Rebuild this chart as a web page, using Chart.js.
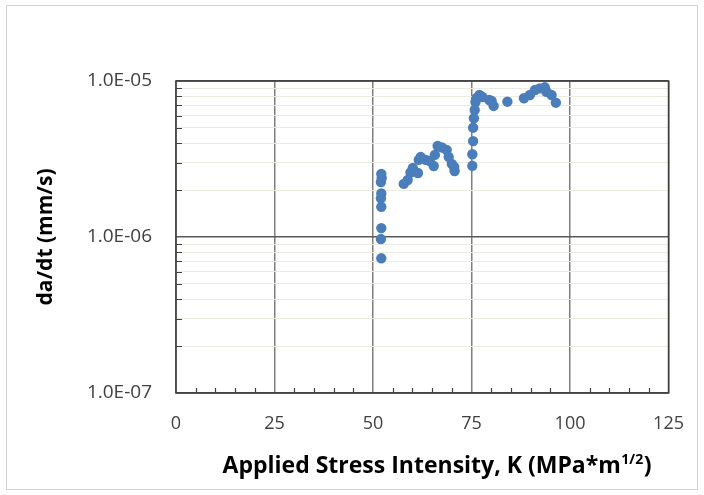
<!DOCTYPE html>
<html>
<head>
<meta charset="utf-8">
<script src="https://cdn.jsdelivr.net/npm/chart.js@4.4.1/dist/chart.umd.min.js"></script>
<style>
  html, body { margin: 0; padding: 0; background: #ffffff; }
  #wrap { width: 704px; height: 495px; position: relative; }
</style>
</head>
<body>
<div id="wrap"><canvas id="c" width="704" height="495"></canvas></div>
<script>
// Applied stress intensity K (MPa*m^1/2)
const K = [
  52.1, 52.2, 52.0, 52.1, 52.0, 52.1, 52.1, 52.0, 52.1,
  57.8, 58.8, 59.5, 60.1, 61.4, 61.6, 62.1, 63.4, 64.4, 65.4, 65.7, 66.4, 67.5, 68.7, 69.2, 70.0, 70.6, 70.7,
  75.2, 75.2, 75.4, 75.4, 75.6, 75.8, 76.0, 76.3, 77.0, 77.8, 79.5, 80.1, 80.6,
  84.1, 88.3, 89.8, 91.1, 92.3, 93.6, 94.0, 95.3, 96.4
];

// Crack growth rate da/dt (mm/s)
const DADT = [
  2.54e-6, 2.39e-6, 2.25e-6, 1.90e-6, 1.77e-6, 1.56e-6, 1.14e-6, 0.97e-6, 0.73e-6,
  2.19e-6, 2.32e-6, 2.59e-6, 2.77e-6, 2.57e-6, 3.12e-6, 3.26e-6, 3.12e-6, 3.07e-6, 2.85e-6, 3.36e-6, 3.83e-6, 3.75e-6, 3.61e-6, 3.26e-6, 2.94e-6, 2.81e-6, 2.65e-6,
  2.86e-6, 3.39e-6, 4.12e-6, 5.02e-6, 5.77e-6, 6.52e-6, 7.33e-6, 7.78e-6, 8.13e-6, 7.89e-6, 7.56e-6, 7.44e-6, 6.92e-6,
  7.37e-6, 7.75e-6, 8.13e-6, 8.76e-6, 8.97e-6, 9.11e-6, 8.53e-6, 8.13e-6, 7.26e-6
];

// Axis ticks
const X_TICKS = [0, 25, 50, 75, 100, 125];
const X_MINOR_STEP = 5;
const Y_DECADES = [-7, -6, -5];          // labelled powers of ten
const Y_MINOR_MULT = [2, 3, 4, 5, 6, 7, 8, 9];

const X_TITLE = 'Applied Stress Intensity, K (MPa*m';
const X_TITLE_SUP = '1/2';
const X_TITLE_END = ')';
const Y_TITLE = 'da/dt (mm/s)';

const FONT = "'Open Sans', 'Liberation Sans', sans-serif";
const TEXT = '#404040';

function sciLabel(v) {
  const e = Math.round(Math.log10(v));
  const m = v / Math.pow(10, e);
  const sign = e < 0 ? '-' : '+';
  const ee = String(Math.abs(e)).padStart(2, '0');
  return m.toFixed(1) + 'E' + sign + ee;
}
function isDecade(v) {
  const l = Math.log10(v);
  return Math.abs(l - Math.round(l)) < 1e-6;
}

const points = K.map((k, i) => ({ x: k, y: DADT[i] }));

// Box outline, inward minor ticks, titles and the outer frame
const decor = {
  id: 'decor',
  beforeDraw(chart) {
    const ctx = chart.ctx;
    ctx.save();
    ctx.fillStyle = '#ffffff';
    ctx.fillRect(0, 0, chart.width, chart.height);
    ctx.restore();
  },
  afterDatasetsDraw(chart) {
    const ctx = chart.ctx;
    const a = chart.chartArea;
    const xs = chart.scales.x, ys = chart.scales.y;
    ctx.save();
    // minor ticks pointing into the plot
    ctx.strokeStyle = '#404040';
    ctx.lineWidth = 1.2;
    ctx.beginPath();
    for (let d = 0; d < Y_DECADES.length - 1; d++) {
      Y_MINOR_MULT.forEach(m => {
        const y = Math.round(ys.getPixelForValue(m * Math.pow(10, Y_DECADES[d]))) + 0.5;
        ctx.moveTo(a.left, y);
        ctx.lineTo(a.left + 6, y);
      });
    }
    for (let v = X_TICKS[0]; v <= X_TICKS[X_TICKS.length - 1]; v += X_MINOR_STEP) {
      if (X_TICKS.includes(v)) continue;
      const x = Math.round(xs.getPixelForValue(v)) + 0.5;
      ctx.moveTo(x, a.bottom);
      ctx.lineTo(x, a.bottom - 5);
    }
    ctx.stroke();
    // plot box
    ctx.lineWidth = 1.6;
    ctx.strokeStyle = '#404040';
    ctx.strokeRect(a.left, a.top, a.right - a.left, a.bottom - a.top);

    // outer frame
    ctx.lineWidth = 1;
    ctx.strokeStyle = '#d4d4d4';
    ctx.strokeRect(6.5, 5.5, 691, 484);

    // y title
    ctx.fillStyle = '#000000';
    ctx.font = 'bold 21px ' + FONT;
    ctx.textAlign = 'center';
    ctx.textBaseline = 'middle';
    ctx.translate(46, (a.top + a.bottom) / 2);
    ctx.rotate(-Math.PI / 2);
    ctx.fillText(Y_TITLE, 0, 0);
    ctx.setTransform(1, 0, 0, 1, 0, 0);

    // x title with superscript exponent
    ctx.textAlign = 'left';
    ctx.textBaseline = 'alphabetic';
    const mainFont = 'bold 23px ' + FONT;
    const supFont = 'bold 14px ' + FONT;
    ctx.font = mainFont;
    const w1 = ctx.measureText(X_TITLE).width;
    const w3 = ctx.measureText(X_TITLE_END).width;
    ctx.font = supFont;
    const w2 = ctx.measureText(X_TITLE_SUP).width;
    const total = w1 + w2 + w3 + 1;
    let x0 = 437 - total / 2;
    const base = 473;
    ctx.font = mainFont;
    ctx.fillText(X_TITLE, x0, base);
    ctx.font = supFont;
    ctx.fillText(X_TITLE_SUP, x0 + w1 + 0.5, base - 9);
    ctx.font = mainFont;
    ctx.fillText(X_TITLE_END, x0 + w1 + w2 + 1, base);
    ctx.restore();
  }
};

new Chart(document.getElementById('c'), {
  type: 'scatter',
  data: {
    datasets: [{
      data: points,
      backgroundColor: '#4a7ebb',
      borderWidth: 0,
      pointRadius: 5.2,
      pointHoverRadius: 5.2
    }]
  },
  options: {
    responsive: false,
    animation: false,
    devicePixelRatio: 1,
    layout: { padding: { top: 81, right: 33, left: 0, bottom: 0 } },
    plugins: {
      legend: { display: false },
      tooltip: { enabled: false },
      title: { display: false }
    },
    scales: {
      x: {
        type: 'linear',
        min: X_TICKS[0],
        max: X_TICKS[X_TICKS.length - 1],
        afterBuildTicks(scale) { scale.ticks = X_TICKS.map(v => ({ value: v })); },
        afterFit(scale) { scale.height = 102; },
        border: { display: false },
        grid: {
          drawTicks: false,
          color: '#7f7f7f',
          lineWidth: 1.5
        },
        ticks: {
          autoSkip: false,
          maxRotation: 0,
          padding: 20,
          color: TEXT,
          font: { family: FONT, size: 18 }
        }
      },
      y: {
        type: 'logarithmic',
        min: Math.pow(10, Y_DECADES[0]),
        max: Math.pow(10, Y_DECADES[Y_DECADES.length - 1]),
        afterBuildTicks(scale) {
          const t = [];
          Y_DECADES.forEach((e, i) => {
            t.push({ value: Math.pow(10, e), major: true });
            if (i < Y_DECADES.length - 1) {
              Y_MINOR_MULT.forEach(m => t.push({ value: m * Math.pow(10, e), major: false }));
            }
          });
          scale.ticks = t;
        },
        afterFit(scale) { scale.width = 176; },
        border: { display: false },
        grid: {
          drawTicks: false,
          color: ctx => (ctx.tick && isDecade(ctx.tick.value)) ? '#595959' : '#ecebe2',
          lineWidth: ctx => (ctx.tick && isDecade(ctx.tick.value)) ? 1.5 : 1
        },
        ticks: {
          autoSkip: false,
          padding: 24,
          color: TEXT,
          font: { family: FONT, size: 19 },
          callback: v => isDecade(v) ? sciLabel(v) : ''
        }
      }
    }
  },
  plugins: [decor]
});
</script>
</body>
</html>
